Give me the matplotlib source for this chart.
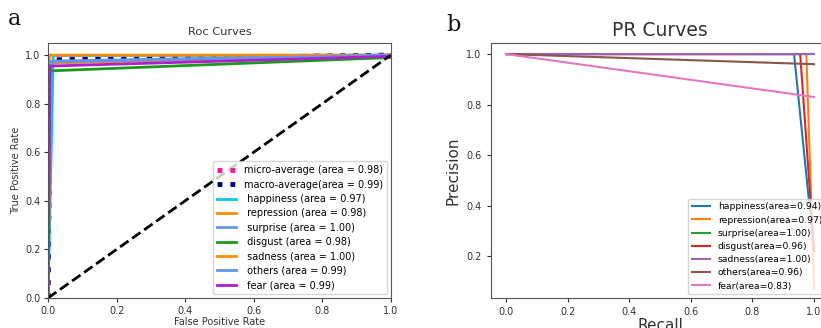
import matplotlib
matplotlib.use("Agg")
import matplotlib.pyplot as plt

# ---------------- ROC data ----------------
roc_labels = ["micro-average (area = 0.98)", "macro-average(area = 0.99)",
              " happiness (area = 0.97)", " repression (area = 0.98)",
              " surprise (area = 1.00)", " disgust (area = 0.98)",
              " sadness (area = 1.00)", " others (area = 0.99)",
              " fear (area = 0.99)"]
roc_colors = ["deeppink", "navy", "#00c8e6", "darkorange", "cornflowerblue",
              "#1a9a1a", "darkorange", "cornflowerblue", "#b01ed0"]
roc_styles = [":", ":", "-", "-", "-", "-", "-", "-", "-"]
roc_widths = [3.5, 3.5, 2, 2, 2, 2, 2, 2, 2]
roc_fpr = [
    [0.0, 0.005, 1.0],
    [0.0, 0.007, 1.0],
    [0.0, 0.015, 1.0],
    [0.0, 0.008, 1.0],
    [0.0, 0.003, 1.0],
    [0.0, 0.004, 1.0],
    [0.0, 0.004, 1.0],
    [0.0, 0.006, 1.0],
    [0.0, 0.006, 1.0],
]
roc_tpr = [
    [0.0, 0.98, 1.0],
    [0.0, 0.98, 1.0],
    [0.0, 0.998, 1.0],
    [0.0, 0.967, 1.0],
    [0.0, 0.975, 1.0],
    [0.0, 0.935, 0.99],
    [0.0, 1.0, 1.0],
    [0.0, 0.972, 1.0],
    [0.0, 0.955, 0.995],
]
diag_x = [0.0, 1.0]
diag_y = [0.0, 1.0]

# ---------------- PR data ----------------
pr_labels = ["happiness(area=0.94)", "repression(area=0.97)", "surprise(area=1.00)",
             "disgust(area=0.96)", "sadness(area=1.00)", "others(area=0.96)",
             "fear(area=0.83)"]
pr_colors = ["#1f77b4", "#ff7f0e", "#2ca02c", "#d62728", "#9467bd", "#8c564b", "#e377c2"]
pr_recall = [
    [0.0, 0.935, 1.0],
    [0.0, 0.975, 1.0],
    [0.0, 1.0],
    [0.0, 0.955, 1.0],
    [0.0, 1.0],
    [0.0, 1.0],
    [0.0, 1.0],
]
pr_precision = [
    [1.0, 1.0, 0.22],
    [1.0, 1.0, 0.07],
    [1.0, 1.0],
    [1.0, 1.0, 0.22],
    [1.0, 1.0],
    [1.0, 0.96],
    [1.0, 0.83],
]

roc_ticks = [0.0, 0.2, 0.4, 0.6, 0.8, 1.0]
pr_xticks = [0.0, 0.2, 0.4, 0.6, 0.8, 1.0]
pr_yticks = [0.2, 0.4, 0.6, 0.8, 1.0]

txt = "#333333"
fig = plt.figure(figsize=(8.21, 3.28), dpi=100)

# ---- panel a ----
ax1 = fig.add_axes([0.0585, 0.0915, 0.4175, 0.7775])
for fx, ty, c, ls, lw, lab in zip(roc_fpr, roc_tpr, roc_colors, roc_styles, roc_widths, roc_labels):
    ax1.plot(fx, ty, color=c, linestyle=ls, linewidth=lw, label=lab)
ax1.plot(diag_x, diag_y, "k--", linewidth=2)
ax1.set_xlim(0.0, 1.0)
ax1.set_ylim(0.0, 1.05)
ax1.set_xticks(roc_ticks)
ax1.set_yticks(roc_ticks)
ax1.tick_params(labelsize=7, colors=txt, length=3, pad=2.5)
ax1.set_xlabel("False Positive Rate", fontsize=7, color=txt, labelpad=1)
ax1.set_ylabel("True Positive Rate", fontsize=7, color=txt, labelpad=3)
ax1.set_title("Roc Curves", fontsize=8.2, color=txt, pad=6)
ax1.legend(loc="lower right", fontsize=7, labelspacing=0.45, borderaxespad=0.4)
for s in ax1.spines.values():
    s.set_color("#555555")

# ---- panel b ----
ax2 = fig.add_axes([0.5976, 0.0915, 0.4127, 0.7775])
for r, p, c, lab in zip(pr_recall, pr_precision, pr_colors, pr_labels):
    ax2.plot(r, p, color=c, linewidth=1.5, label=lab)
ax2.set_xlim(-0.05, 1.05)
ax2.set_ylim(0.034, 1.044)
ax2.set_xticks(pr_xticks)
ax2.set_yticks(pr_yticks)
ax2.tick_params(labelsize=7, colors=txt, length=3)
ax2.set_xlabel("Recall", fontsize=11, color=txt, labelpad=1)
ax2.set_ylabel("Precision", fontsize=11, color=txt, labelpad=4)
ax2.set_title("PR Curves", fontsize=13.5, color=txt, pad=5)
ax2.legend(loc="lower right", fontsize=6.7, labelspacing=0.45, borderaxespad=0.4)
for s in ax2.spines.values():
    s.set_color("#555555")

fig.text(0.01, 0.924, "a", fontsize=16, family="DejaVu Serif", color="#111111")
fig.text(0.544, 0.905, "b", fontsize=16, family="DejaVu Serif", color="#111111")

fig.savefig("out.png", dpi=100)
